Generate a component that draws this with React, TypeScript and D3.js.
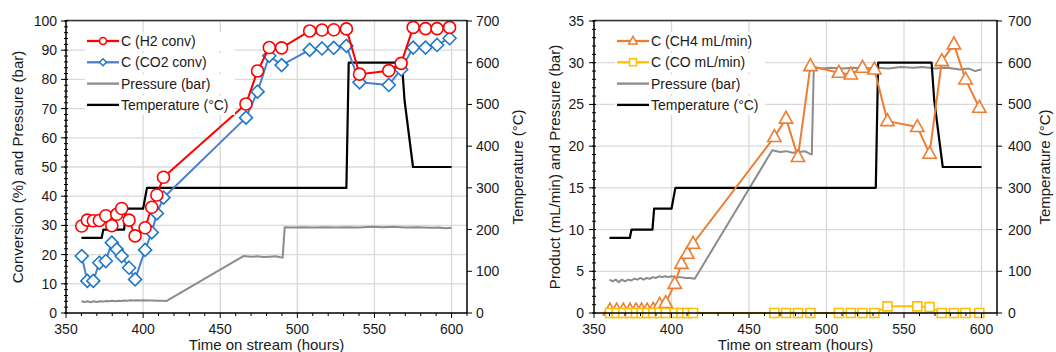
import React from "react";
import * as d3 from "d3";

// ---------- DATA ----------
const convTime = [360.2, 363.8, 367.7, 371.6, 375.8, 379.7, 382.9, 386.1, 390.9, 394.8, 401.3, 405.6, 408.9, 413.2, 466.7, 474.2, 481.8, 489.8, 508, 516, 523.6, 531.8, 540.3, 559.3, 567.3, 575.1, 583.1, 590.6, 598.7];
const h2Conv = [29.8, 31.8, 31.6, 31.7, 33.3, 29.9, 33.8, 35.8, 31.8, 26.4, 29.2, 36.2, 40.4, 46.5, 71.6, 82.9, 90.9, 90.8, 96.6, 96.9, 97.0, 97.3, 81.8, 83.0, 85.5, 97.8, 97.4, 97.4, 97.8];
const co2Conv = [19.5, 11.0, 11.0, 17.2, 17.8, 24.1, 21.8, 19.5, 15.5, 11.5, 21.6, 27.6, 34.1, 39.5, 66.9, 75.8, 88.1, 84.9, 90.1, 90.6, 90.8, 91.5, 79.0, 78.1, 83.4, 90.9, 90.9, 91.8, 94.1];

const prodTime = [360.3, 364.6, 368.9, 373.2, 377.1, 380.7, 384.3, 388.2, 392.4, 396.3, 402.1, 406.4, 410.2, 413.9, 466.4, 473.9, 481.6, 489.6, 508.0, 515.7, 523.2, 530.9, 539.3, 558.6, 566.5, 574.4, 582.2, 589.7, 598.6];
const ch4Flow = [0.3, 0.3, 0.3, 0.3, 0.3, 0.3, 0.3, 0.4, 1.0, 1.2, 3.5, 5.9, 7.1, 8.3, 21.1, 23.3, 18.7, 29.6, 28.8, 28.6, 29.4, 29.2, 23.0, 22.3, 19.1, 30.2, 32.2, 28.0, 24.6];
const coFlow = [0, 0, 0, 0, 0, 0, 0, 0, 0, 0, 0, 0, 0, 0, 0, 0, 0, 0, 0, 0, 0, 0, 0.8, 0.8, 0.7, 0, 0, 0, 0];

const pressTime = [360, 362, 364, 366, 368, 370, 372, 374, 376, 378, 380, 382, 384, 386, 388, 390, 392, 394, 396, 398, 400, 403, 406, 409, 412, 415, 465, 470, 474, 478, 482, 486, 489, 490.5, 491.8, 497, 503, 510, 518, 525, 532, 540, 548, 556, 562, 570, 578, 586, 592, 596, 600];
const pressure = [4.0, 3.8, 4.0, 3.7, 4.0, 3.8, 4.0, 3.9, 4.1, 4.0, 4.2, 4.0, 4.2, 4.1, 4.3, 4.2, 4.4, 4.3, 4.4, 4.3, 4.4, 4.3, 4.3, 4.2, 4.2, 4.1, 19.5, 19.3, 19.4, 19.2, 19.3, 19.4, 19.1, 19.0, 29.4, 29.3, 29.4, 29.3, 29.4, 29.3, 29.4, 29.3, 29.5, 29.4, 29.5, 29.3, 29.4, 29.2, 29.3, 29.0, 29.2];

const tempTime = [360, 373.1, 374.2, 387.7, 388.8, 400.0, 402.5, 531.8, 533.3, 567.8, 569.5, 575.0, 600];
const temperature = [180, 180, 200, 200, 250, 250, 300, 300, 600, 600, 510, 350, 350];

const xTicks = [350, 400, 450, 500, 550, 600];
const tempTicks = [0, 100, 200, 300, 400, 500, 600, 700];
const convTicks = [0, 10, 20, 30, 40, 50, 60, 70, 80, 90, 100];
const prodTicks = [0, 5, 10, 15, 20, 25, 30, 35];

const leftLegend = ["C (H2 conv)", "C (CO2 conv)", "Pressure (bar)", "Temperature (°C)"];
const rightLegend = ["C (CH4 mL/min)", "C (CO mL/min)", "Pressure (bar)", "Temperature (°C)"];

// ---------- STYLE ----------
const RED = "#ff0000";
const BLUE_LINE = "#4a7fcf";
const BLUE_MK = "#1f78c8";
const ORANGE = "#ed7d31";
const YELLOW = "#ffc000";
const GRAY = "#8c8c8c";
const BLACK = "#000000";
const GRID = "#d9d9d9";
const TEXT = "#1a1a1a";
const FONT = "'Liberation Sans', Arial, sans-serif";

type Marker = "circle" | "diamond" | "triangle" | "square" | "none";

function markerPath(type: Marker, size: number): string {
  const s = size;
  if (type === "diamond") return `M0,${-s}L${s},0L0,${s}L${-s},0Z`;
  if (type === "triangle") return `M0,${-s * 1.05}L${s * 0.95},${s * 0.65}L${-s * 0.95},${s * 0.65}Z`;
  if (type === "square") return `M${-s},${-s}H${s}V${s}H${-s}Z`;
  return "";
}

function MarkerShape({ type, x, y, size, color, sw }: { type: Marker; x: number; y: number; size: number; color: string; sw: number }) {
  if (type === "circle") return <circle cx={x} cy={y} r={size} fill="#fff" stroke={color} strokeWidth={sw} />;
  if (type === "none") return null;
  return <path d={markerPath(type, size)} transform={`translate(${x},${y})`} fill="#fff" stroke={color} strokeWidth={sw} />;
}

interface Series {
  xs: number[];
  ys: number[];
  color: string;
  mkColor?: string;
  marker: Marker;
  size: number;
  axis: "L" | "R";
  width: number;
}

interface ChartProps {
  x0: number;
  x1: number;
  yMax: number;
  yTicks: number[];
  yMinorStep: number;
  yTitle: string;
  leftLabelX: number;
  leftTitleX: number;
  rightLabelX: number;
  rightTitleX: number;
  series: Series[];
  legend: string[];
  legendSeries: { color: string; marker: Marker; mkColor?: string }[];
  legendX: number;
}

const TOP = 21;
const BOTTOM = 313;

function Chart(p: ChartProps) {
  const x = d3.scaleLinear().domain([350, 610]).range([p.x0, p.x1]);
  const yL = d3.scaleLinear().domain([0, p.yMax]).range([BOTTOM, TOP]);
  const yR = d3.scaleLinear().domain([0, 700]).range([BOTTOM, TOP]);
  const xMinor = d3.range(350, 611, 10);
  const yMinor = d3.range(0, p.yMax + 0.001, p.yMinorStep);
  const midY = (TOP + BOTTOM) / 2;

  return (
    <g fontFamily={FONT} fill={TEXT}>
      {/* gridlines */}
      {p.yTicks.filter((t) => t > 0).map((t) => (
        <line key={"gy" + t} x1={p.x0} x2={p.x1} y1={yL(t)} y2={yL(t)} stroke={GRID} strokeWidth={1.3} />
      ))}
      {xTicks.filter((t) => t > 350).map((t) => (
        <line key={"gx" + t} x1={x(t)} x2={x(t)} y1={TOP} y2={BOTTOM} stroke={GRID} strokeWidth={1.3} />
      ))}

      {/* series */}
      {p.series.map((s, i) => {
        const sc = s.axis === "L" ? yL : yR;
        const line = d3.line<number>().x((_, j) => x(s.xs[j])).y((v) => sc(v));
        return (
          <g key={"s" + i}>
            <path d={line(s.ys) || ""} fill="none" stroke={s.color} strokeWidth={s.width} strokeLinejoin="round" />
            {s.marker !== "none" &&
              s.ys.map((v, j) => (
                <MarkerShape key={j} type={s.marker} x={x(s.xs[j])} y={sc(v)} size={s.size} color={s.mkColor || s.color} sw={1.6} />
              ))}
          </g>
        );
      })}

      {/* frame */}
      <line x1={p.x0} x2={p.x1} y1={TOP - 0.5} y2={TOP - 0.5} stroke="#333" strokeWidth={1.3} />
      <line x1={p.x0} x2={p.x0} y1={TOP - 1} y2={BOTTOM} stroke={BLACK} strokeWidth={1.5} />
      <line x1={p.x1} x2={p.x1} y1={TOP - 1} y2={BOTTOM} stroke={BLACK} strokeWidth={1.5} />
      <line x1={p.x0} x2={p.x1} y1={BOTTOM} y2={BOTTOM} stroke={BLACK} strokeWidth={1.5} />

      {/* x ticks */}
      {xMinor.map((t) => (
        <line key={"xm" + t} x1={x(t)} x2={x(t)} y1={BOTTOM} y2={BOTTOM + (t % 50 === 0 ? 5 : 3)} stroke={BLACK} strokeWidth={1} />
      ))}
      {xTicks.map((t) => (
        <text key={"xl" + t} x={x(t)} y={BOTTOM + 21} fontSize={14} textAnchor="middle">{t}</text>
      ))}
      <text x={(p.x0 + p.x1) / 2} y={BOTTOM + 37} fontSize={15} textAnchor="middle">Time on stream (hours)</text>

      {/* left y */}
      {yMinor.map((t, i) => (
        <line key={"ym" + i} x1={p.x0 - 2} x2={p.x0 + 2} y1={yL(t)} y2={yL(t)} stroke={BLACK} strokeWidth={1} />
      ))}
      {p.yTicks.map((t) => (
        <g key={"yl" + t}>
          <line x1={p.x0 - 5} x2={p.x0} y1={yL(t)} y2={yL(t)} stroke={BLACK} strokeWidth={1} />
          <text x={p.leftLabelX} y={yL(t) + 5} fontSize={14} textAnchor="end">{t}</text>
        </g>
      ))}
      <text transform={`translate(${p.leftTitleX},${midY}) rotate(-90)`} fontSize={15} textAnchor="middle">{p.yTitle}</text>

      {/* right y */}
      {tempTicks.map((t) => (
        <g key={"yr" + t}>
          <line x1={p.x1} x2={p.x1 + 5} y1={yR(t)} y2={yR(t)} stroke={BLACK} strokeWidth={1} />
          <text x={p.rightLabelX} y={yR(t) + 5} fontSize={14} textAnchor="start">{t}</text>
        </g>
      ))}
      <text transform={`translate(${p.rightTitleX},${midY}) rotate(-90)`} fontSize={15} textAnchor="middle">Temperature (°C)</text>

      {/* legend */}
      {p.legend.map((name, i) => {
        const ly = 41 + i * 21.3;
        const ls = p.legendSeries[i];
        return (
          <g key={"lg" + i}>
            <rect x={p.legendX - 2} y={ly - 9} width={150} height={19} fill="#fff" />
            <line x1={p.legendX} x2={p.legendX + 32} y1={ly} y2={ly} stroke={ls.color} strokeWidth={2.3} />
            <MarkerShape type={ls.marker} x={p.legendX + 16} y={ly} size={ls.marker === "triangle" ? 4.5 : 3.5} color={ls.mkColor || ls.color} sw={1.5} />
            <text x={p.legendX + 34} y={ly + 5} fontSize={14}>{name}</text>
          </g>
        );
      })}
    </g>
  );
}

export default function App() {
  const leftSeries: Series[] = [
    { xs: pressTime, ys: pressure, color: GRAY, marker: "none", size: 0, axis: "L", width: 2 },
    { xs: tempTime, ys: temperature, color: BLACK, marker: "none", size: 0, axis: "R", width: 2.2 },
    { xs: convTime, ys: co2Conv, color: BLUE_LINE, mkColor: BLUE_MK, marker: "diamond", size: 6.5, axis: "L", width: 2 },
    { xs: convTime, ys: h2Conv, color: RED, marker: "circle", size: 6, axis: "L", width: 2 },
  ];
  const rightSeries: Series[] = [
    { xs: pressTime, ys: pressure, color: GRAY, marker: "none", size: 0, axis: "L", width: 2 },
    { xs: tempTime, ys: temperature, color: BLACK, marker: "none", size: 0, axis: "R", width: 2.2 },
    { xs: prodTime, ys: ch4Flow, color: ORANGE, marker: "triangle", size: 7, axis: "L", width: 2 },
    { xs: prodTime, ys: coFlow, color: YELLOW, marker: "square", size: 4.5, axis: "L", width: 2 },
  ];
  return (
    <svg width={1056} height={352} style={{ position: "absolute", left: 0, top: 0, background: "#fff" }}>
      <rect width={1056} height={352} fill="#fff" />
      <Chart
        x0={66}
        x1={467}
        yMax={100}
        yTicks={convTicks}
        yMinorStep={2}
        yTitle="Conversion (%) and Pressure (bar)"
        leftLabelX={57}
        leftTitleX={23}
        rightLabelX={476}
        rightTitleX={523}
        series={leftSeries}
        legend={leftLegend}
        legendSeries={[
          { color: RED, marker: "circle" },
          { color: BLUE_LINE, mkColor: BLUE_MK, marker: "diamond" },
          { color: GRAY, marker: "none" },
          { color: BLACK, marker: "none" },
        ]}
        legendX={87}
      />
      <Chart
        x0={594}
        x1={997}
        yMax={35}
        yTicks={prodTicks}
        yMinorStep={1}
        yTitle="Product (mL/min) and Pressure (bar)"
        leftLabelX={584}
        leftTitleX={560}
        rightLabelX={1008}
        rightTitleX={1050}
        series={rightSeries}
        legend={rightLegend}
        legendSeries={[
          { color: ORANGE, marker: "triangle" },
          { color: YELLOW, marker: "square" },
          { color: GRAY, marker: "none" },
          { color: BLACK, marker: "none" },
        ]}
        legendX={617}
      />
    </svg>
  );
}
